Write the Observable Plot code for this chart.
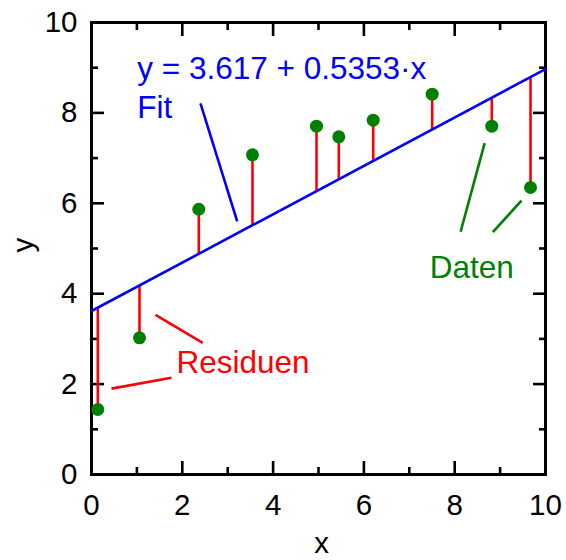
<!DOCTYPE html>
<html><head><meta charset="utf-8">
<script src="https://cdn.jsdelivr.net/npm/d3@7"></script>
<script src="https://cdn.jsdelivr.net/npm/@observablehq/plot@0.6"></script>
<style>
  html, body { margin: 0; padding: 0; background: #fff; }
  #chart svg { display: block; }
</style>
</head><body><div id="chart"></div>
<script>
// Data points
const xData = [0.139, 1.057, 2.363, 3.546, 4.956, 5.447, 6.205, 7.504, 8.817, 9.670];
const yData = [1.438, 3.024, 5.869, 7.073, 7.706, 7.471, 7.839, 8.414, 7.706, 6.350];
// Fit parameters (from the equation in the chart)
const intercept = 3.617;
const slope = 0.5353;
const fitRange = [0, 10];
// Ticks
const majorTicks = [0, 2, 4, 6, 8, 10];
const minorTicks = [1, 3, 5, 7, 9];
// Annotation labels
const labelTexts = ["y = 3.617 + 0.5353·x", "Fit", "Residuen", "Daten"];
const labelX = [1.01, 1.01, 1.87, 7.45];
const labelY = [8.74, 7.88, 2.24, 4.34];
const labelColors = ["#0000ff", "#0000ff", "#ff0000", "#008000"];
// Annotation pointer lines
const pointerX1 = [2.40, 1.41, 0.44, 8.66, 9.47];
const pointerY1 = [8.21, 3.53, 1.90, 7.33, 6.06];
const pointerX2 = [3.21, 2.45, 1.76, 8.13, 8.84];
const pointerY2 = [5.60, 2.91, 2.14, 5.37, 5.36];
const pointerColors = ["#0000ff", "#ff0000", "#ff0000", "#008000", "#008000"];

const fit = x => intercept + slope * x;
const points = xData.map((x, i) => ({x, y: yData[i], yf: fit(x)}));
const fitLine = fitRange.map(x => ({x, y: fit(x)}));
const labels = labelTexts.map((t, i) => ({t, x: labelX[i], y: labelY[i], c: labelColors[i]}));
const pointers = pointerX1.map((x1, i) => ({x1, y1: pointerY1[i], x2: pointerX2[i], y2: pointerY2[i], c: pointerColors[i]}));

const FONT = "'Liberation Sans', Arial, Helvetica, sans-serif";
const SW = 2.6;

const chart = Plot.plot({
  width: 566,
  height: 560,
  marginLeft: 91,
  marginRight: 21,
  marginTop: 22,
  marginBottom: 86,
  style: {fontFamily: FONT, fontSize: "29.5px", color: "#000", background: "#fff", overflow: "visible"},
  x: {domain: [0, 10]},
  y: {domain: [0, 10]},
  marks: [
    // inward ticks, all four sides
    Plot.axisX({anchor: "bottom", ticks: majorTicks, tickSize: -13, tickFormat: () => "", strokeWidth: SW, label: null}),
    Plot.axisX({anchor: "bottom", ticks: minorTicks, tickSize: -7, tickFormat: () => "", strokeWidth: SW, label: null}),
    Plot.axisX({anchor: "top", ticks: majorTicks, tickSize: -13, tickFormat: () => "", strokeWidth: SW, label: null}),
    Plot.axisX({anchor: "top", ticks: minorTicks, tickSize: -7, tickFormat: () => "", strokeWidth: SW, label: null}),
    Plot.axisY({anchor: "left", ticks: majorTicks, tickSize: -13, tickFormat: () => "", strokeWidth: SW, label: null}),
    Plot.axisY({anchor: "left", ticks: minorTicks, tickSize: -7, tickFormat: () => "", strokeWidth: SW, label: null}),
    Plot.axisY({anchor: "right", ticks: majorTicks, tickSize: -13, tickFormat: () => "", strokeWidth: SW, label: null}),
    Plot.axisY({anchor: "right", ticks: minorTicks, tickSize: -7, tickFormat: () => "", strokeWidth: SW, label: null}),
    // tick labels
    Plot.text(majorTicks, {x: d => d, frameAnchor: "bottom", lineAnchor: "top", dy: 20, text: d => String(d), fill: "#000"}),
    Plot.text(majorTicks, {y: d => d, frameAnchor: "left", textAnchor: "end", dx: -14, text: d => String(d), fill: "#000"}),
    // axis titles
    Plot.text(["x"], {frameAnchor: "bottom", lineAnchor: "bottom", dx: 3, dy: 78, text: d => d, fill: "#000"}),
    Plot.text(["y"], {frameAnchor: "left", rotate: -90, dx: -68, dy: 4, text: d => d, fill: "#000"}),
    Plot.frame({stroke: "#000", strokeWidth: 3}),
    // residuals
    Plot.ruleX(points, {x: "x", y1: "y", y2: "yf", stroke: "#ff0000", strokeWidth: SW}),
    // fit line
    Plot.line(fitLine, {x: "x", y: "y", stroke: "#0000ff", strokeWidth: SW}),
    // data points
    Plot.dot(points, {x: "x", y: "y", r: 6.5, fill: "#008000", stroke: "none"}),
    // pointers
    Plot.link(pointers, {x1: "x1", y1: "y1", x2: "x2", y2: "y2", stroke: "c", strokeWidth: SW}),
    // labels
    Plot.text(labels, {x: "x", y: "y", text: "t", fill: "c", textAnchor: "start", lineAnchor: "bottom", fontSize: 31.5})
  ]
});
document.getElementById("chart").appendChild(chart);
</script>
</body></html>
